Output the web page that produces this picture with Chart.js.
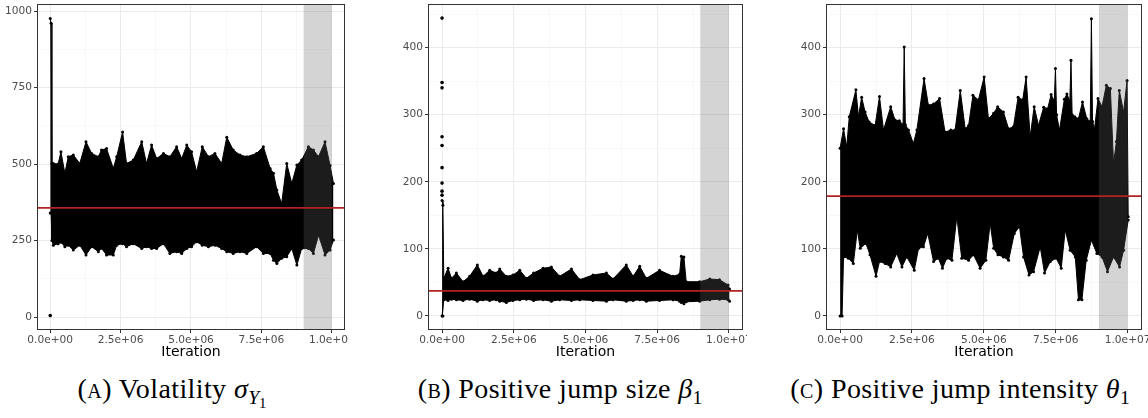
<!DOCTYPE html>
<html>
<head>
<meta charset="utf-8">
<script src="https://cdn.jsdelivr.net/npm/chart.js@4.4.1/dist/chart.umd.min.js"></script>
<style>
  body { margin: 0; background: #fff; width: 1148px; height: 418px; position: relative; overflow: hidden; }
  canvas { position: absolute; top: 0; }
  .cap { position: absolute; top: 373px; transform: translateX(-50%); white-space: nowrap;
         font-family: 'Liberation Serif', serif; font-size: 28px; line-height: 32px; letter-spacing: 0.4px; color: #000; }
  .sc { font-variant: small-caps; }
  .cap sub { font-size: 70%; vertical-align: -0.3em; line-height: 0; letter-spacing: 0; }
  .cap sub sub { font-size: 75%; vertical-align: -0.25em; }
</style>
</head>
<body>
<canvas id="chartA" width="349" height="362" style="left:0px"></canvas>
<canvas id="chartB" width="362" height="362" style="left:385px"></canvas>
<canvas id="chartC" width="378" height="362" style="left:770px"></canvas>
<div class="cap" style="left:172px">(<span class="sc">a</span>) Volatility <i>σ</i><sub><i>Y</i><sub>1</sub></sub></div>
<div class="cap" style="left:560px">(<span class="sc">b</span>) Positive jump size <i>β</i><sub>1</sub></div>
<div class="cap" style="left:960px">(<span class="sc">c</span>) Positive jump intensity <i>θ</i><sub>1</sub></div>
<script>
// iterations are in millions
const xMajor = [0, 2.5, 5, 7.5, 10];
const xMinor = [1.25, 3.75, 6.25, 8.75];
const bandStart = 9.0;
const bandEnd = 10.0;

// (A) volatility
const iterA = [0, 0.03, 0.06, 0.11, 0.28, 0.38, 0.52, 0.64, 0.82, 1.05, 1.27, 1.47, 1.71, 1.82, 2.00, 2.24, 2.36, 2.57, 2.71, 2.95,
  3.25, 3.42, 3.60, 3.78, 4.02, 4.25, 4.49, 4.67, 4.85, 5.02, 5.20, 5.40, 5.62, 5.85, 6.09, 6.27, 6.50, 6.74, 6.98, 7.33,
  7.57, 7.81, 7.93, 8.05, 8.22, 8.40, 8.58, 8.76, 8.93, 9.17, 9.35, 9.53, 9.76, 9.94, 10.06];
const hiA = [976, 960, 502, 502, 500, 540, 470, 524, 530, 502, 573, 535, 524, 546, 551, 486, 524, 605, 502, 513,
  573, 502, 562, 518, 535, 524, 557, 518, 562, 540, 475, 557, 524, 535, 502, 588, 546, 530, 524, 535,
  557, 486, 470, 415, 371, 502, 437, 497, 513, 557, 546, 524, 573, 495, 437];
const loA = [340, 340, 250, 235, 240, 245, 230, 235, 219, 235, 203, 230, 214, 225, 203, 203, 235, 240, 230, 240,
  224, 230, 224, 224, 240, 208, 214, 208, 224, 230, 246, 235, 230, 235, 224, 214, 208, 214, 208, 230,
  208, 208, 186, 175, 192, 197, 224, 170, 224, 224, 208, 268, 203, 219, 252];
const dotIterA = [0];
const dotsA = [5];
const meanA = 357;
const yMajorA = [0, 250, 500, 750, 1000];
const yMinorA = [125, 375, 625, 875];

// (B) positive jump size
const iterB = [0, 0.03, 0.06, 0.21, 0.33, 0.50, 0.73, 0.96, 1.23, 1.43, 1.66, 1.89, 2.01, 2.24, 2.47, 2.71, 2.94, 3.19, 3.52, 3.81,
  4.10, 4.51, 4.80, 5.26, 5.73, 5.96, 6.42, 6.66, 6.89, 7.12, 7.58, 8.05, 8.28, 8.34, 8.43, 8.51, 8.98, 9.33, 9.67, 9.97, 10.02];
const hiB = [172, 165, 56, 71, 56, 64, 51, 59, 76, 59, 68, 64, 70, 59, 61, 68, 56, 64, 71, 73,
  59, 70, 54, 61, 64, 55, 76, 59, 74, 56, 68, 59, 62, 89, 88, 51, 51, 55, 54, 46, 40];
const loB = [0, 0, 24, 23, 25, 24, 23, 25, 22, 24, 23, 24, 22, 20, 23, 24, 25, 23, 24, 22,
  24, 23, 24, 23, 22, 24, 22, 23, 24, 22, 23, 24, 22, 20, 18, 21, 22, 24, 25, 24, 22];
const dotIterB = [0, 0, 0, 0, 0, 0, 0, 0, 0];
const dotsB = [180, 186, 198, 221, 254, 267, 340, 348, 444];
const meanB = 37.3;
const yMajorB = [0, 100, 200, 300, 400];
const yMinorB = [50, 150, 250, 350, 450];

// (C) positive jump intensity
const iterHiC = [0, 0.12, 0.23, 0.32, 0.55, 0.64, 0.75, 0.87, 1.01, 1.22, 1.37, 1.51, 1.76, 1.91, 2.06, 2.19, 2.23, 2.27, 2.38, 2.55,
  2.67, 2.92, 3.07, 3.25, 3.46, 3.65, 3.85, 4.00, 4.18, 4.35, 4.47, 4.62, 4.81, 5.01, 5.16, 5.34, 5.48, 5.68, 5.86, 6.03,
  6.19, 6.35, 6.47, 6.61, 6.75, 6.90, 7.08, 7.22, 7.34, 7.45, 7.49, 7.53, 7.63, 7.80, 7.89, 7.99, 8.03, 8.07, 8.16, 8.29,
  8.43, 8.58, 8.70, 8.74, 8.78, 8.85, 8.97, 9.11, 9.26, 9.40, 9.51, 9.61, 9.71, 9.86, 9.98, 10.02];
const hiC = [250, 279, 252, 297, 337, 297, 326, 304, 289, 284, 327, 277, 312, 292, 291, 285, 401, 285, 277, 257,
  277, 354, 314, 316, 324, 274, 277, 277, 336, 279, 284, 329, 322, 356, 294, 302, 312, 304, 279, 282,
  326, 322, 356, 267, 312, 284, 311, 309, 330, 320, 369, 300, 277, 323, 331, 320, 381, 300, 297, 294,
  319, 294, 290, 443, 290, 279, 324, 312, 344, 339, 227, 260, 336, 304, 351, 148];
const iterLoC = [0, 0.07, 0.12, 0.29, 0.46, 0.60, 0.70, 0.90, 1.04, 1.25, 1.37, 1.57, 1.76, 1.97, 2.15, 2.32, 2.58, 2.73, 2.90, 3.05,
  3.25, 3.42, 3.56, 3.71, 3.89, 4.06, 4.23, 4.47, 4.64, 4.87, 5.07, 5.22, 5.34, 5.49, 5.68, 5.86, 6.06, 6.24, 6.38, 6.57,
  6.73, 6.96, 7.11, 7.31, 7.52, 7.69, 7.83, 8.00, 8.18, 8.29, 8.41, 8.56, 8.74, 8.93, 9.11, 9.30, 9.51, 9.72, 9.86, 10.02];
const loC = [0, 0, 88, 86, 78, 128, 101, 108, 91, 59, 81, 78, 73, 93, 73, 88, 68, 101, 103, 123,
  81, 86, 71, 86, 83, 148, 86, 83, 91, 71, 83, 138, 101, 91, 88, 83, 123, 133, 88, 61,
  66, 103, 64, 81, 86, 71, 128, 98, 88, 24, 24, 83, 113, 93, 88, 66, 88, 73, 98, 143];
const meanC = 178.6;
const yMajorC = [0, 100, 200, 300, 400];
const yMinorC = [50, 150, 250, 350, 450];

const tickFont = { family: 'DejaVu Sans', size: 10.6 };
const tickColor = '#4d4d4d';

function pts(xs, ys) {
  return xs.map((x, i) => ({ x: x, y: ys[i] }));
}

function fmtIter(v) {
  if (v === 0) return '0.0e+00';
  const n = v * 1e6;
  const e = Math.floor(Math.log10(n));
  const m = n / Math.pow(10, e);
  return m.toFixed(1) + 'e+' + String(e).padStart(2, '0');
}

const bandPlugin = {
  id: 'band',
  beforeDatasetDraw(chart, args) {
    if (args.index !== 0) return;
    const a = chart.chartArea;
    const x = chart.scales.x;
    const x0 = x.getPixelForValue(bandStart);
    const x1 = x.getPixelForValue(bandEnd);
    const ctx = chart.ctx;
    ctx.save();
    ctx.fillStyle = 'rgba(100,100,100,0.28)';
    ctx.fillRect(x0, a.top, x1 - x0, a.bottom - a.top);
    ctx.restore();
  }
};

const framePlugin = {
  id: 'frame',
  afterDraw(chart) {
    const a = chart.chartArea;
    const ctx = chart.ctx;
    ctx.save();
    ctx.strokeStyle = '#333333';
    ctx.lineWidth = 1;
    ctx.strokeRect(Math.round(a.left) + 0.5, Math.round(a.top) + 0.5,
      Math.round(a.right - a.left) - 1, Math.round(a.bottom - a.top) - 1);
    ctx.restore();
  }
};

function gridOpts(major) {
  return {
    color: c => major.includes(c.tick.value) ? '#ebebeb' : '#f5f5f5',
    lineWidth: c => major.includes(c.tick.value) ? 1 : 0.7,
    tickColor: c => major.includes(c.tick.value) ? '#333333' : 'rgba(0,0,0,0)',
    tickLength: 3,
    tickWidth: 1
  };
}

function makeChart(id, p) {
  const datasets = [
    { // mean
      data: [{ x: p.xMin, y: p.mean }, { x: p.xMax, y: p.mean }],
      borderColor: '#b22222', borderWidth: 1.6, pointRadius: 0, order: 0
    },
    { // upper edge of trace
      data: pts(p.iterHi, p.hi),
      borderColor: '#000', backgroundColor: '#000', borderWidth: 1,
      pointRadius: 1.5, pointBackgroundColor: '#000', pointBorderWidth: 0,
      fill: '+1', order: 2
    },
    { // lower edge of trace
      data: pts(p.iterLo, p.lo),
      borderColor: '#000', borderWidth: 1,
      pointRadius: 1.5, pointBackgroundColor: '#000', pointBorderWidth: 0,
      fill: false, order: 3
    }
  ];
  if (p.dotIter) {
    datasets.push({
      data: pts(p.dotIter, p.dots), showLine: false,
      pointRadius: 1.8, pointBackgroundColor: '#000', pointBorderWidth: 0, order: 1
    });
  }
  const yAll = p.yMajor.concat(p.yMinor).sort((a, b) => a - b);
  const xAll = xMajor.concat(xMinor).sort((a, b) => a - b);
  return new Chart(document.getElementById(id), {
    type: 'line',
    data: { datasets: datasets },
    plugins: [bandPlugin, framePlugin],
    options: {
      responsive: false,
      animation: false,
      devicePixelRatio: 1,
      layout: { autoPadding: false, padding: { left: 0, top: 4, right: p.rightPad, bottom: 0 } },
      plugins: { legend: { display: false }, tooltip: { enabled: false } },
      scales: {
        x: {
          type: 'linear', min: p.xMin, max: p.xMax,
          afterBuildTicks: s => { s.ticks = xAll.map(v => ({ value: v })); },
          afterFit: s => { s.height = 32; s.paddingLeft = 0; s.paddingRight = 0; },
          ticks: {
            autoSkip: false, maxRotation: 0, padding: 1, font: tickFont, color: tickColor,
            callback: v => xMajor.includes(v) ? fmtIter(v) : ''
          },
          grid: gridOpts(xMajor),
          border: { display: false },
          title: {
            display: true, text: 'Iteration', color: '#000',
            font: { family: 'DejaVu Sans', size: 14 }, padding: { top: 0, bottom: 1 }
          }
        },
        y: {
          type: 'linear', min: p.yMin, max: p.yMax,
          afterBuildTicks: s => { s.ticks = yAll.map(v => ({ value: v })); },
          afterFit: s => { s.width = p.yAxisWidth; s.paddingTop = 0; s.paddingBottom = 0; },
          ticks: {
            autoSkip: false, padding: 2, font: tickFont, color: tickColor,
            callback: v => p.yMajor.includes(v) ? String(v) : ''
          },
          grid: gridOpts(p.yMajor),
          border: { display: false }
        }
      }
    }
  });
}

makeChart('chartA', {
  iterHi: iterA, hi: hiA, iterLo: iterA, lo: loA, dotIter: dotIterA, dots: dotsA,
  mean: meanA, yMajor: yMajorA, yMinor: yMinorA,
  xMin: -0.47, xMax: 10.47, yMin: -42, yMax: 1023, yAxisWidth: 37, rightPad: 4
});
makeChart('chartB', {
  iterHi: iterB, hi: hiB, iterLo: iterB, lo: loB, dotIter: dotIterB, dots: dotsB,
  mean: meanB, yMajor: yMajorB, yMinor: yMinorB,
  xMin: -0.49, xMax: 10.49, yMin: -21, yMax: 465, yAxisWidth: 43, rightPad: 4
});
makeChart('chartC', {
  iterHi: iterHiC, hi: hiC, iterLo: iterLoC, lo: loC,
  mean: meanC, yMajor: yMajorC, yMinor: yMinorC,
  xMin: -0.49, xMax: 10.5, yMin: -21, yMax: 465, yAxisWidth: 56, rightPad: 6
});
</script>
</body>
</html>
